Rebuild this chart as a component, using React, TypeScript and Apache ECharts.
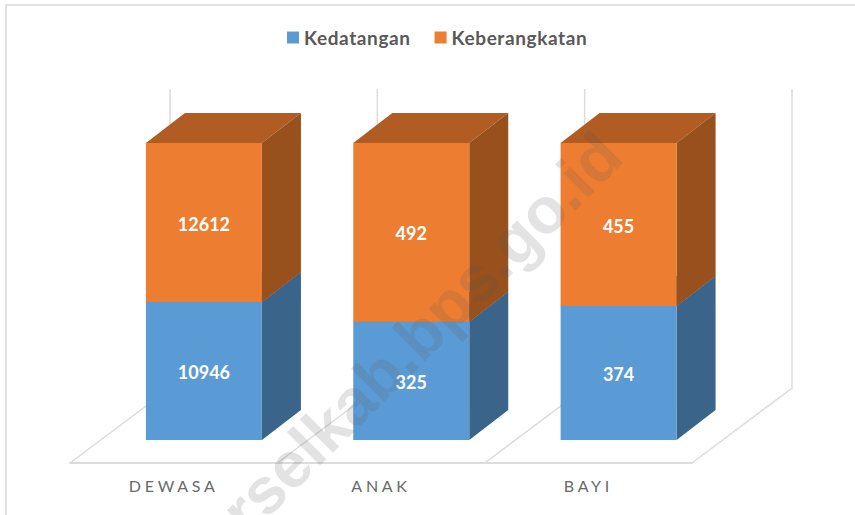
import React, { useEffect, useRef } from "react";
import * as echarts from "echarts";

const categories = ["DEWASA", "ANAK", "BAYI"];
const kedatangan = [10946, 325, 374];
const keberangkatan = [12612, 492, 455];
const watermark = "urselkab.bps.go.id";

const FONT = "Lato, 'Open Sans', sans-serif";

const pct = (a: number, b: number) => (a / (a + b)) * 100;

const blueData = categories.map((_, i) => [i, 0, pct(kedatangan[i], keberangkatan[i]), kedatangan[i]]);
const orangeData = categories.map((_, i) => [i, pct(kedatangan[i], keberangkatan[i]), 100, keberangkatan[i]]);

function barRenderer(front: string, side: string, top: string) {
  return (_params: any, api: any) => {
    const [cx, y0] = api.coord([api.value(0), api.value(1)]);
    const [, y1] = api.coord([api.value(0), api.value(2)]);
    const left = cx + 30.25 - 58;
    const right = left + 116;
    const bottom = y0 - 23;
    const upper = y1 - 23;
    const dx = 39;
    const dy = 30;
    return {
      type: "group",
      children: [
        {
          type: "polygon",
          shape: { points: [[left, upper], [right, upper], [right + dx, upper - dy], [left + dx, upper - dy]] },
          style: { fill: top },
        },
        {
          type: "polygon",
          shape: { points: [[right, upper], [right + dx, upper - dy], [right + dx, bottom - dy], [right, bottom]] },
          style: { fill: side },
        },
        {
          type: "rect",
          shape: { x: left, y: upper, width: 116, height: bottom - upper },
          style: {
            fill: front,
            text: String(api.value(3)),
            textFill: "#ffffff",
            fontFamily: FONT,
            fontWeight: "bold",
            fontSize: 18,
            textPosition: "inside",
            textOffset: [0, 1],
          },
        },
      ],
    };
  };
}

function gridRenderer(params: any, api: any) {
  const cs = params.coordSys;
  const i = api.value(0);
  const x = cs.x + (cs.width * i) / categories.length;
  const yFloor = api.coord([0, 0])[1];
  const yTop = api.coord([0, 100])[1];
  const stroke = { stroke: "#dcdcdc", lineWidth: 1.5, fill: "none" };
  return {
    type: "group",
    children: [
      {
        type: "polyline",
        shape: { points: [[x, yFloor], [x + 100, yFloor - 75], [x + 100, yTop - 77]] },
        style: stroke,
      },
    ],
  };
}

export default function App() {
  const ref = useRef<HTMLDivElement>(null);
  useEffect(() => {
    const el = ref.current!;
    const chart = echarts.init(el, undefined, { renderer: "svg" });
    chart.setOption({
      animation: false,
      backgroundColor: "#ffffff",
      grid: { left: 70, width: 622, top: 166, height: 297 },
      legend: {
        data: [
          { name: "Kedatangan", itemStyle: { color: "#5B9BD5" } },
          { name: "Keberangkatan", itemStyle: { color: "#ED7D31" } },
        ],
        left: 287,
        top: 28,
        padding: 0,
        icon: "rect",
        itemWidth: 12,
        itemHeight: 12,
        itemGap: 30,
        textStyle: { fontFamily: FONT, fontWeight: "bold", fontSize: 19, color: "#595959" },
      },
      xAxis: {
        type: "category",
        data: categories,
        axisLine: { lineStyle: { color: "#dcdcdc", width: 2 } },
        axisTick: { show: false },
        axisLabel: { margin: 14, fontFamily: FONT, fontSize: 16, color: "#6a6a6a" },
      },
      yAxis: { type: "value", min: 0, max: 100, show: false },
      series: [
        {
          type: "custom",
          name: "grid",
          silent: true,
          clip: false,
          data: [[0], [1], [2], [3]],
          encode: { x: 0 },
          renderItem: gridRenderer,
        },
        {
          type: "custom",
          name: "Kedatangan",
          clip: false,
          itemStyle: { color: "#5B9BD5" },
          data: blueData,
          encode: { x: 0, y: [1, 2] },
          renderItem: barRenderer("#5B9BD5", "#3A6489", "#44749F"),
        },
        {
          type: "custom",
          name: "Keberangkatan",
          clip: false,
          itemStyle: { color: "#ED7D31" },
          data: orangeData,
          encode: { x: 0, y: [1, 2] },
          renderItem: barRenderer("#ED7D31", "#98501C", "#B05C22"),
        },
      ],
      graphic: [
        { type: "line", shape: { x1: 6, y1: 5, x2: 855, y2: 5 }, style: { stroke: "#e2e2e2", lineWidth: 2 } },
        { type: "line", shape: { x1: 6, y1: 4, x2: 6, y2: 515 }, style: { stroke: "#e2e2e2", lineWidth: 2 } },
        {
          type: "text",
          x: 633,
          y: 167,
          rotation: Math.PI / 4,
          z: 100,
          silent: true,
          style: {
            text: watermark,
            textAlign: "right",
            textVerticalAlign: "bottom",
            fontFamily: "'Liberation Sans', Arial, sans-serif",
            fontWeight: "bold",
            fontSize: 65,
            fill: "rgba(90,90,90,0.17)",
          },
        },
      ],
    });
    el.querySelectorAll("text").forEach((t) => {
      const s = t.textContent || "";
      if (categories.includes(s)) (t as any).style.letterSpacing = "3.7px";
      if (s === "Kedatangan" || s === "Keberangkatan") (t as any).style.letterSpacing = "0.6px";
    });
    return () => chart.dispose();
  }, []);
  return <div ref={ref} style={{ position: "absolute", left: 0, top: 0, width: 855, height: 515 }} />;
}
